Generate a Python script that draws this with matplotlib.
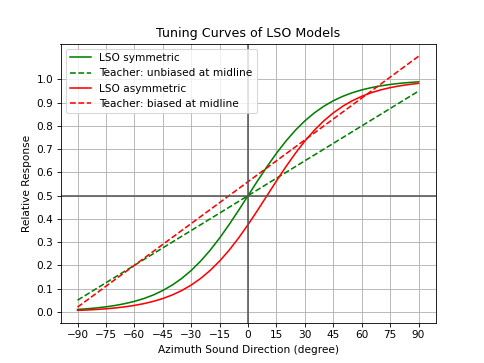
import matplotlib
matplotlib.use("Agg")
import matplotlib.pyplot as plt
import numpy as np

azimuth = [-90, -85, -80, -75, -70, -65, -60, -55, -50, -45, -40, -35, -30, -25, -20, -15, -10, -5,
           0, 5, 10, 15, 20, 25, 30, 35, 40, 45, 50, 55, 60, 65, 70, 75, 80, 85, 90]
lso_symmetric = [0.0100, 0.0129, 0.0166, 0.0214, 0.0274, 0.0351, 0.0448, 0.0570, 0.0724, 0.0916,
                 0.1151, 0.1437, 0.1780, 0.2184, 0.2650, 0.3176, 0.3752, 0.4366, 0.5000, 0.5634,
                 0.6248, 0.6824, 0.7350, 0.7816, 0.8220, 0.8563, 0.8849, 0.9084, 0.9276, 0.9430,
                 0.9552, 0.9649, 0.9726, 0.9786, 0.9834, 0.9871, 0.9900]
lso_asymmetric = [0.0061, 0.0078, 0.0100, 0.0129, 0.0166, 0.0214, 0.0274, 0.0351, 0.0448, 0.0570,
                  0.0724, 0.0916, 0.1151, 0.1437, 0.1780, 0.2184, 0.2650, 0.3176, 0.3752, 0.4366,
                  0.5000, 0.5634, 0.6248, 0.6824, 0.7350, 0.7816, 0.8220, 0.8563, 0.8849, 0.9084,
                  0.9276, 0.9430, 0.9552, 0.9649, 0.9726, 0.9786, 0.9834]
teacher_x = [-90, 90]
teacher_unbiased = [0.05, 0.95]
teacher_biased = [0.02, 1.10]
x_ticks = [-90, -75, -60, -45, -30, -15, 0, 15, 30, 45, 60, 75, 90]
y_ticks = [0.0, 0.1, 0.2, 0.3, 0.4, 0.5, 0.6, 0.7, 0.8, 0.9, 1.0]

fig, ax = plt.subplots(figsize=(6.4, 4.8), dpi=75.625)
ax.plot(azimuth, lso_symmetric, color='green', label='LSO symmetric')
ax.plot(teacher_x, teacher_unbiased, color='green', linestyle='--', label='Teacher: unbiased at midline')
ax.plot(azimuth, lso_asymmetric, color='red', label='LSO asymmetric')
ax.plot(teacher_x, teacher_biased, color='red', linestyle='--', label='Teacher: biased at midline')
ax.axvline(0, color='#555555', linewidth=1.5)
ax.axhline(0.5, color='#555555', linewidth=1.5)
ax.set_xticks(x_ticks)
ax.set_yticks(y_ticks)
ax.grid(True)
ax.set_xlabel('Azimuth Sound Direction (degree)')
ax.set_ylabel('Relative Response')
ax.set_title('Tuning Curves of LSO Models')
ax.legend(loc='upper left')
fig.savefig('out.png', dpi=75.625)
